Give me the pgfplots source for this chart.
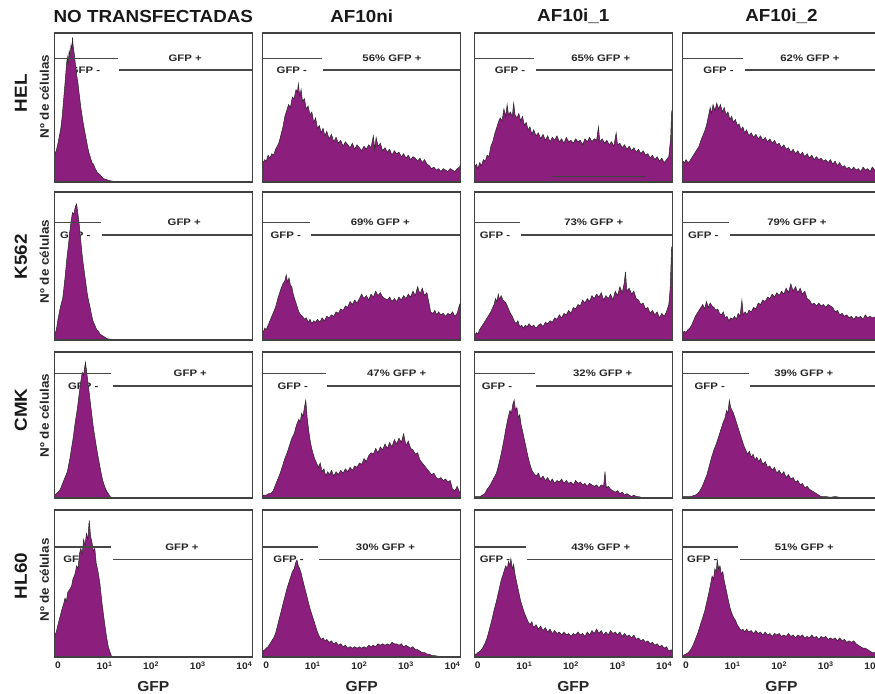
\documentclass[border=0pt]{standalone}
\usepackage{pgfplots}
\pgfplotsset{compat=1.18}
\usepackage{fontspec}
\setmainfont{Liberation Sans}[FakeStretch=1.08]
\newfontfamily\gatefont{Liberation Sans}[FakeStretch=1.2]
\definecolor{histc}{RGB}{140,30,125}
\definecolor{boxc}{RGB}{65,65,65}
\tikzset{
  hfill/.style={fill=histc, draw=black!85, line width=0.5pt},
  gline/.style={draw=black!72, line width=1.5pt},
  gatelbl/.style={font=\gatefont\bfseries\fontsize{9.5}{9.5}\selectfont, text=black!85, inner sep=0pt},
  ttl/.style={font=\bfseries\fontsize{17.5}{17.5}\selectfont, text=black!90, inner sep=0pt},
  ylab/.style={font=\bfseries\fontsize{12.5}{12.5}\selectfont, text=black!85, inner sep=0pt, rotate=90},
  xlab/.style={font=\bfseries\fontsize{14.5}{14.5}\selectfont, text=black!85, inner sep=0pt}
}
\pgfplotsset{
  hist/.style={scale only axis, width=198bp, xmin=-0.075, xmax=4.175, ymin=0, ymax=100,
    xtick=\empty, ytick=\empty, axis on top, anchor=north west,
    axis line style={draw=boxc, line width=1.4pt}},
  bottomrow/.style={xtick={0,1,2,3,4},
    xticklabels={0,10\textsuperscript{1},10\textsuperscript{2},10\textsuperscript{3},10\textsuperscript{4}},
    major tick length=0pt,
    xticklabel style={font=\bfseries\fontsize{9.5}{9.5}\selectfont, text=black!85, yshift=-1bp}}
}
\newcommand{\gtext}[5]{\node[gatelbl] at (axis cs:#4,#1) {#3}; \node[gatelbl] at (axis cs:#5,#2) {GFP -};}
\newcommand{\glines}[4]{\draw[gline] (axis cs:-0.075,#1) -- (axis cs:#3,#1); \draw[gline] (axis cs:#4,#2) -- (axis cs:4.175,#2);}
\begin{document}
\begin{tikzpicture}
\useasboundingbox (0,0) rectangle (875bp,-694bp);
% ---------- titles ----------
\node[ttl] at (153.3bp,-16bp) {NO TRANSFECTADAS};
\node[ttl] at (361.7bp,-16bp) {AF10ni};
\node[ttl] at (573.3bp,-16bp) {AF10i\_1};
\node[ttl] at (781.5bp,-16bp) {AF10i\_2};
\node[ttl, rotate=90] at (20.8bp,-93.3bp) {HEL};
\node[ttl, rotate=90] at (20.8bp,-256.7bp) {K562};
\node[ttl, rotate=90] at (20.8bp,-410bp) {CMK};
\node[ttl, rotate=90] at (20.8bp,-576bp) {HL60};
\node[ylab] at (44.3bp,-96.7bp) {Nº de células};
\node[ylab] at (44.3bp,-261.7bp) {Nº de células};
\node[ylab] at (44.3bp,-415.7bp) {Nº de células};
\node[ylab] at (44.3bp,-580bp) {Nº de células};
\node[xlab] at (153.3bp,-687bp) {GFP};
\node[xlab] at (361.7bp,-687bp) {GFP};
\node[xlab] at (573.3bp,-687bp) {GFP};
\node[xlab] at (781.5bp,-687bp) {GFP};

% ================= ROW 1 : HEL =================
\begin{axis}[hist, at={(54.5bp,-33bp)}, height=149bp]
\gtext{83.0}{75.2}{GFP +}{2.73}{0.58}
\addplot[hfill] coordinates {(-0.075,0)(-0.07,18)(-0.03,22)(0,26)(0.03,31)(0.06,36)(0.09,44)(0.12,55)(0.15,66)(0.18,78)(0.2,84)(0.22,80)(0.24,88)(0.26,85)(0.28,92)(0.3,89)(0.31,97)(0.33,90)(0.35,86)(0.37,80)(0.4,72)(0.43,66)(0.46,58)(0.49,50)(0.52,44)(0.55,38)(0.58,33)(0.61,28)(0.64,23)(0.67,19)(0.7,16)(0.73,13)(0.76,12)(0.8,9)(0.85,6)(0.9,5)(0.95,3)(1.0,2)(1.05,1.5)(1.1,1)(1.18,0.5)(1.2,0)} \closedcycle;
\glines{83.0}{75.2}{1.29}{1.31}
\end{axis}

\begin{axis}[hist, at={(262.7bp,-33bp)}, height=149bp]
\gtext{83.0}{75.2}{56\% GFP +}{2.70}{0.55}
\addplot[hfill] coordinates {(-0.075,0)(-0.07,13)(-0.03,15)(0,14)(0.04,18)(0.08,16)(0.12,19)(0.16,18)(0.2,22)(0.24,24)(0.28,27)(0.32,32)(0.36,37)(0.4,44)(0.44,48)(0.48,52)(0.52,50)(0.56,57)(0.6,56)(0.64,62)(0.67,60)(0.69,66)(0.72,58)(0.75,62)(0.78,54)(0.82,56)(0.86,49)(0.9,51)(0.94,45)(0.98,47)(1.02,40)(1.06,43)(1.1,36)(1.14,38)(1.18,33)(1.22,36)(1.26,31)(1.3,34)(1.35,29)(1.4,32)(1.45,27)(1.5,30)(1.55,26)(1.6,28)(1.65,24)(1.7,27)(1.75,25)(1.8,23)(1.85,26)(1.9,22)(1.95,25)(2.0,23)(2.05,21)(2.1,24)(2.15,22)(2.2,25)(2.25,23)(2.3,31)(2.33,22)(2.36,30)(2.4,24)(2.45,26)(2.5,21)(2.55,23)(2.6,20)(2.65,22)(2.7,18)(2.75,21)(2.8,19)(2.85,20)(2.9,17)(2.95,19)(3.0,16)(3.05,18)(3.1,15)(3.15,17)(3.2,16)(3.25,14)(3.3,16)(3.35,13)(3.4,15)(3.45,12)(3.5,11)(3.55,9)(3.6,10)(3.65,8)(3.7,9)(3.75,7)(3.8,9)(3.85,8)(3.9,7)(3.95,9)(4.0,8)(4.05,7)(4.1,9)(4.15,10)(4.175,12)} \closedcycle;
\glines{83.0}{75.2}{1.20}{1.22}
\end{axis}

\begin{axis}[hist, at={(474.3bp,-33bp)}, height=149bp]
\gtext{83.0}{75.2}{65\% GFP +}{2.64}{0.69}
\addplot[hfill] coordinates {(-0.075,0)(-0.07,10)(-0.03,12)(0,9)(0.04,13)(0.08,11)(0.12,15)(0.16,14)(0.2,18)(0.24,17)(0.28,24)(0.32,27)(0.36,32)(0.4,36)(0.44,40)(0.48,43)(0.52,41)(0.56,49)(0.6,44)(0.63,52)(0.66,45)(0.7,47)(0.74,44)(0.77,53)(0.8,45)(0.84,43)(0.88,46)(0.92,41)(0.96,44)(1.0,38)(1.04,40)(1.08,35)(1.12,37)(1.16,32)(1.2,35)(1.25,31)(1.3,33)(1.35,29)(1.4,32)(1.45,28)(1.5,31)(1.55,27)(1.6,30)(1.65,28)(1.7,31)(1.75,27)(1.8,29)(1.85,26)(1.9,30)(1.95,27)(2.0,28)(2.05,26)(2.1,29)(2.15,27)(2.2,28)(2.25,25)(2.3,29)(2.35,27)(2.4,30)(2.45,27)(2.5,29)(2.55,28)(2.59,37)(2.62,27)(2.67,29)(2.72,26)(2.77,28)(2.82,25)(2.87,27)(2.92,24)(2.97,33)(3.0,25)(3.05,26)(3.1,23)(3.15,25)(3.2,22)(3.25,24)(3.3,21)(3.35,23)(3.4,20)(3.45,22)(3.5,19)(3.55,21)(3.6,18)(3.65,19)(3.7,16)(3.75,18)(3.8,15)(3.85,17)(3.9,14)(3.95,16)(4.0,13)(4.05,15)(4.1,17)(4.14,30)(4.16,47)(4.175,45)} \closedcycle;
\addplot[draw=black!75, line width=1.2pt] coordinates {(1.6,3.6)(3.62,3.6)};
\glines{83.0}{75.2}{1.21}{1.25}
\end{axis}

\begin{axis}[hist, at={(682.5bp,-33bp)}, height=149bp]
\gtext{83.0}{75.2}{62\% GFP +}{2.66}{0.70}
\addplot[hfill] coordinates {(-0.075,0)(-0.07,14)(-0.03,13)(0,15)(0.04,13)(0.08,14)(0.12,16)(0.16,18)(0.2,20)(0.24,22)(0.28,24)(0.32,28)(0.36,31)(0.4,34)(0.44,38)(0.48,44)(0.52,50)(0.55,46)(0.58,52)(0.62,48)(0.66,53)(0.7,49)(0.74,52)(0.78,47)(0.82,50)(0.86,45)(0.9,47)(0.94,42)(0.98,44)(1.02,40)(1.06,42)(1.1,38)(1.14,39)(1.18,35)(1.22,37)(1.26,33)(1.3,35)(1.35,31)(1.4,33)(1.45,30)(1.5,32)(1.55,29)(1.6,31)(1.65,28)(1.7,30)(1.75,27)(1.8,29)(1.85,26)(1.9,28)(1.95,25)(2.0,26)(2.05,23)(2.1,25)(2.15,22)(2.2,23)(2.25,20)(2.3,22)(2.35,19)(2.4,21)(2.45,18)(2.5,20)(2.55,17)(2.6,19)(2.65,16)(2.7,18)(2.75,15)(2.8,17)(2.85,15)(2.9,16)(2.95,14)(3.0,15)(3.05,13)(3.1,15)(3.15,12)(3.2,14)(3.25,11)(3.3,13)(3.35,10)(3.4,11)(3.45,9)(3.5,10)(3.55,8)(3.6,10)(3.65,8)(3.7,9)(3.75,7)(3.8,10)(3.85,8)(3.9,9)(3.95,7)(4.0,10)(4.05,8)(4.1,9)(4.175,8)} \closedcycle;
\glines{83.0}{75.2}{1.23}{1.27}
\end{axis}

% ================= ROW 2 : K562 =================
\begin{axis}[hist, at={(54.5bp,-192bp)}, height=148bp]
\gtext{79.4}{70.9}{GFP +}{2.71}{0.37}
\addplot[hfill] coordinates {(-0.075,0)(-0.07,3)(-0.03,8)(0,14)(0.05,22)(0.1,28)(0.13,36)(0.16,45)(0.19,55)(0.22,63)(0.25,72)(0.28,80)(0.31,86)(0.34,85)(0.37,90)(0.4,92)(0.42,87)(0.45,80)(0.48,70)(0.51,60)(0.54,52)(0.57,45)(0.6,38)(0.63,31)(0.66,26)(0.69,22)(0.72,17)(0.75,13)(0.79,10)(0.83,7)(0.87,6)(0.9,4)(0.95,3)(1.0,2)(1.05,1)(1.12,0.5)(1.18,0)} \closedcycle;
\glines{79.4}{70.9}{0.92}{0.94}
\end{axis}

\begin{axis}[hist, at={(262.7bp,-192bp)}, height=148bp]
\gtext{79.4}{70.9}{69\% GFP +}{2.45}{0.42}
\addplot[hfill] coordinates {(-0.075,0)(-0.07,5)(-0.03,8)(0,7)(0.04,10)(0.08,13)(0.12,16)(0.16,19)(0.2,22)(0.24,27)(0.28,31)(0.32,35)(0.36,38)(0.4,40)(0.43,44)(0.46,39)(0.49,42)(0.52,37)(0.55,36)(0.58,31)(0.62,27)(0.66,23)(0.7,19)(0.74,17)(0.78,16)(0.82,14)(0.86,15)(0.9,12)(0.94,14)(0.98,11)(1.02,13)(1.06,12)(1.1,14)(1.15,12)(1.2,15)(1.25,13)(1.3,16)(1.35,15)(1.4,17)(1.45,16)(1.5,19)(1.55,18)(1.6,21)(1.65,20)(1.7,23)(1.75,22)(1.8,26)(1.85,24)(1.9,27)(1.95,25)(2.0,28)(2.05,31)(2.1,28)(2.15,30)(2.2,27)(2.25,31)(2.3,29)(2.35,33)(2.4,30)(2.45,32)(2.5,29)(2.55,28)(2.6,27)(2.65,29)(2.7,26)(2.75,28)(2.8,26)(2.85,29)(2.9,27)(2.95,30)(3.0,28)(3.05,31)(3.1,29)(3.15,33)(3.2,30)(3.25,36)(3.3,31)(3.35,35)(3.4,30)(3.45,32)(3.5,24)(3.53,19)(3.58,18)(3.62,20)(3.66,17)(3.7,19)(3.75,17)(3.8,18)(3.85,16)(3.9,18)(3.95,17)(4.0,19)(4.05,16)(4.1,18)(4.15,24)(4.175,20)} \closedcycle;
\glines{79.4}{70.9}{0.94}{0.96}
\end{axis}

\begin{axis}[hist, at={(474.3bp,-192bp)}, height=148bp]
\gtext{79.4}{70.9}{73\% GFP +}{2.49}{0.37}
\addplot[hfill] coordinates {(-0.075,0)(-0.07,3)(-0.03,5)(0,4)(0.04,7)(0.08,9)(0.12,11)(0.16,13)(0.2,15)(0.24,17)(0.28,19)(0.32,22)(0.35,24)(0.38,28)(0.41,26)(0.44,31)(0.47,27)(0.5,30)(0.54,27)(0.58,26)(0.62,24)(0.66,21)(0.7,18)(0.74,16)(0.78,13)(0.82,11)(0.86,13)(0.9,9)(0.94,10)(0.98,8)(1.02,10)(1.06,9)(1.1,11)(1.15,9)(1.2,10)(1.25,8)(1.3,10)(1.35,11)(1.4,9)(1.45,12)(1.5,11)(1.55,13)(1.6,12)(1.65,15)(1.7,14)(1.75,17)(1.8,15)(1.85,18)(1.9,17)(1.95,20)(2.0,18)(2.05,22)(2.1,21)(2.15,24)(2.2,23)(2.25,27)(2.3,25)(2.35,28)(2.4,26)(2.45,30)(2.5,28)(2.55,31)(2.6,29)(2.65,32)(2.7,27)(2.75,30)(2.8,28)(2.85,31)(2.9,27)(2.95,33)(3.0,30)(3.05,36)(3.1,32)(3.14,38)(3.17,46)(3.2,33)(3.25,35)(3.3,31)(3.35,33)(3.4,28)(3.45,27)(3.5,24)(3.55,25)(3.6,21)(3.65,22)(3.7,18)(3.75,20)(3.8,17)(3.85,19)(3.9,15)(3.95,18)(4.0,16)(4.05,19)(4.1,24)(4.13,35)(4.16,63)(4.175,60)} \closedcycle;
\glines{79.4}{70.9}{0.91}{0.93}
\end{axis}

\begin{axis}[hist, at={(682.5bp,-192bp)}, height=148bp]
\gtext{79.4}{70.9}{79\% GFP +}{2.38}{0.37}
\addplot[hfill] coordinates {(-0.075,0)(-0.07,5)(-0.03,6)(0,5)(0.04,7)(0.08,8)(0.12,10)(0.16,13)(0.2,16)(0.24,18)(0.28,20)(0.32,22)(0.36,24)(0.4,21)(0.44,26)(0.48,22)(0.52,25)(0.56,23)(0.6,22)(0.64,20)(0.68,21)(0.72,18)(0.76,17)(0.8,19)(0.84,15)(0.88,16)(0.92,13)(0.96,15)(1.0,14)(1.04,16)(1.08,14)(1.12,18)(1.16,16)(1.2,27)(1.23,17)(1.27,19)(1.31,17)(1.35,20)(1.4,19)(1.45,22)(1.5,21)(1.55,25)(1.6,24)(1.65,27)(1.7,26)(1.75,29)(1.8,28)(1.85,31)(1.9,29)(1.95,32)(2.0,30)(2.05,33)(2.1,31)(2.15,35)(2.2,32)(2.25,38)(2.3,33)(2.35,36)(2.4,32)(2.45,35)(2.5,31)(2.55,33)(2.6,28)(2.65,27)(2.7,24)(2.75,25)(2.8,23)(2.85,25)(2.9,23)(2.95,24)(3.0,22)(3.05,24)(3.1,23)(3.15,22)(3.2,19)(3.25,20)(3.3,17)(3.35,18)(3.4,16)(3.45,17)(3.5,15)(3.55,16)(3.6,14)(3.65,16)(3.7,15)(3.75,16)(3.8,14)(3.85,17)(3.9,15)(3.95,16)(4.0,15)(4.1,16)(4.175,15)} \closedcycle;
\glines{79.4}{70.9}{0.93}{0.94}
\end{axis}

% ================= ROW 3 : CMK =================
\begin{axis}[hist, at={(54.5bp,-352bp)}, height=146bp]
\gtext{85.4}{76.7}{GFP +}{2.84}{0.54}
\addplot[hfill] coordinates {(-0.075,0)(-0.07,2)(0,4)(0.05,6)(0.1,10)(0.15,14)(0.2,18)(0.25,26)(0.29,34)(0.33,42)(0.37,52)(0.41,60)(0.45,70)(0.49,80)(0.52,86)(0.55,84)(0.57,89)(0.59,93)(0.61,88)(0.64,80)(0.67,72)(0.7,64)(0.73,56)(0.76,48)(0.8,40)(0.84,32)(0.88,25)(0.92,18)(0.96,12)(1.0,8)(1.04,5)(1.08,3)(1.12,1)(1.15,0)} \closedcycle;
\glines{85.4}{76.7}{1.14}{1.19}
\end{axis}

\begin{axis}[hist, at={(262.7bp,-352bp)}, height=146bp]
\gtext{85.4}{76.7}{47\% GFP +}{2.80}{0.57}
\addplot[hfill] coordinates {(-0.075,0)(-0.07,2)(0,2)(0.05,3)(0.1,3)(0.15,5)(0.2,9)(0.25,13)(0.3,17)(0.35,22)(0.4,27)(0.45,31)(0.5,36)(0.55,41)(0.6,44)(0.65,50)(0.7,54)(0.73,52)(0.76,58)(0.79,56)(0.82,62)(0.85,67)(0.88,55)(0.91,47)(0.94,40)(0.97,35)(1.0,31)(1.04,27)(1.08,24)(1.12,21)(1.16,24)(1.2,18)(1.24,20)(1.28,15)(1.32,18)(1.36,16)(1.4,19)(1.45,15)(1.5,18)(1.55,16)(1.6,19)(1.65,17)(1.7,20)(1.75,18)(1.8,21)(1.85,19)(1.9,22)(1.95,21)(2.0,24)(2.05,23)(2.1,27)(2.15,25)(2.2,29)(2.25,31)(2.3,30)(2.35,34)(2.4,31)(2.45,35)(2.5,33)(2.55,37)(2.6,34)(2.65,38)(2.7,35)(2.75,40)(2.8,37)(2.85,41)(2.9,38)(2.95,44)(3.0,36)(3.05,39)(3.1,34)(3.15,33)(3.2,30)(3.25,31)(3.3,26)(3.35,24)(3.4,22)(3.45,20)(3.5,18)(3.55,16)(3.6,17)(3.65,14)(3.7,13)(3.75,14)(3.8,12)(3.85,13)(3.9,11)(3.95,12)(4.0,6)(4.05,5)(4.1,8)(4.15,4)(4.175,3)} \closedcycle;
\glines{85.4}{76.7}{1.29}{1.31}
\end{axis}

\begin{axis}[hist, at={(474.3bp,-352bp)}, height=146bp]
\gtext{85.4}{76.7}{32\% GFP +}{2.68}{0.41}
\addplot[hfill] coordinates {(-0.075,0)(-0.07,1)(0,1)(0.05,1)(0.1,2)(0.15,3)(0.2,6)(0.25,8)(0.3,11)(0.35,14)(0.4,17)(0.45,23)(0.5,30)(0.55,38)(0.6,47)(0.65,55)(0.69,60)(0.72,58)(0.75,64)(0.78,67)(0.81,60)(0.84,62)(0.87,55)(0.9,57)(0.93,50)(0.96,46)(1.0,40)(1.04,34)(1.08,28)(1.12,23)(1.16,19)(1.2,17)(1.25,15)(1.3,17)(1.35,13)(1.4,15)(1.45,12)(1.5,14)(1.55,11)(1.6,13)(1.65,10)(1.7,12)(1.75,11)(1.8,13)(1.85,10)(1.9,12)(1.95,10)(2.0,11)(2.05,9)(2.1,12)(2.15,10)(2.2,11)(2.25,9)(2.3,10)(2.35,8)(2.4,10)(2.45,9)(2.5,8)(2.55,9)(2.6,7)(2.65,9)(2.7,8)(2.73,18)(2.76,7)(2.8,8)(2.85,6)(2.9,5)(2.95,4)(3.0,5)(3.05,3)(3.1,4)(3.15,2)(3.2,3)(3.25,2)(3.3,1)(3.35,2)(3.4,1)(3.45,1)(3.5,0.5)(3.55,0)} \closedcycle;
\glines{85.4}{76.7}{1.22}{1.24}
\end{axis}

\begin{axis}[hist, at={(682.5bp,-352bp)}, height=146bp]
\gtext{85.4}{76.7}{39\% GFP +}{2.53}{0.51}
\addplot[hfill] coordinates {(-0.075,0)(-0.07,1)(0,1)(0.1,1)(0.2,2)(0.25,3)(0.3,5)(0.35,8)(0.4,12)(0.45,16)(0.5,22)(0.55,28)(0.6,33)(0.65,37)(0.7,42)(0.75,47)(0.8,52)(0.84,55)(0.87,60)(0.9,58)(0.93,67)(0.96,62)(0.99,60)(1.02,58)(1.05,55)(1.08,52)(1.12,48)(1.16,44)(1.2,40)(1.24,36)(1.28,33)(1.32,30)(1.36,32)(1.4,28)(1.44,30)(1.48,26)(1.52,28)(1.56,25)(1.6,27)(1.65,23)(1.7,25)(1.75,21)(1.8,22)(1.85,19)(1.9,21)(1.95,17)(2.0,19)(2.05,16)(2.1,18)(2.15,14)(2.2,16)(2.25,13)(2.3,14)(2.35,11)(2.4,12)(2.45,9)(2.5,10)(2.55,7)(2.6,8)(2.65,6)(2.7,5)(2.75,4)(2.8,3)(2.85,2)(2.9,1)(3.0,1)(3.1,0.5)(3.2,1)(3.3,0.5)(3.4,0)} \closedcycle;
\glines{85.4}{76.7}{1.35}{1.38}
\end{axis}

% ================= ROW 4 : HL60 =================
\begin{axis}[hist, bottomrow, at={(54.5bp,-510bp)}, height=147bp]
\gtext{75.0}{66.5}{GFP +}{2.66}{0.44}
\addplot[hfill] coordinates {(-0.075,0)(-0.07,14)(-0.03,18)(0,22)(0.04,27)(0.08,32)(0.12,36)(0.15,40)(0.18,38)(0.21,44)(0.25,46)(0.29,48)(0.32,53)(0.36,56)(0.4,62)(0.43,60)(0.46,70)(0.49,74)(0.52,70)(0.55,80)(0.58,76)(0.61,84)(0.64,80)(0.67,93)(0.7,82)(0.73,78)(0.76,72)(0.79,74)(0.82,64)(0.86,58)(0.9,50)(0.94,38)(0.98,28)(1.01,21)(1.04,14)(1.08,7)(1.12,3)(1.155,0)} \closedcycle;
\glines{75.0}{66.5}{1.14}{1.18}
\end{axis}

\begin{axis}[hist, bottomrow, at={(262.7bp,-510bp)}, height=147bp]
\gtext{75.0}{66.5}{30\% GFP +}{2.56}{0.48}
\addplot[hfill] coordinates {(-0.075,0)(-0.07,4)(-0.03,5)(0,6)(0.04,7)(0.08,9)(0.12,11)(0.16,13)(0.2,16)(0.24,21)(0.28,26)(0.32,31)(0.36,36)(0.4,41)(0.44,46)(0.48,50)(0.52,54)(0.56,58)(0.6,60)(0.63,64)(0.66,66)(0.69,62)(0.72,60)(0.75,57)(0.78,53)(0.82,48)(0.86,43)(0.9,38)(0.94,33)(0.98,29)(1.02,25)(1.06,21)(1.1,17)(1.14,14)(1.18,12)(1.22,13)(1.26,11)(1.3,12)(1.35,10)(1.4,11)(1.45,9)(1.5,10)(1.55,8)(1.6,9)(1.65,7)(1.7,8)(1.75,6)(1.8,7)(1.85,6)(1.9,7)(1.95,6)(2.0,7)(2.05,6)(2.1,7)(2.15,6)(2.2,8)(2.25,7)(2.3,8)(2.35,7)(2.4,9)(2.45,8)(2.5,9)(2.55,8)(2.6,9)(2.65,8)(2.7,10)(2.75,9)(2.8,9)(2.85,8)(2.9,9)(2.95,7)(3.0,8)(3.05,7)(3.1,6)(3.15,7)(3.2,5)(3.25,5)(3.3,4)(3.35,3)(3.4,3)(3.45,2)(3.5,2)(3.55,1)(3.6,1)(3.7,0.5)(3.8,0)} \closedcycle;
\glines{75.0}{66.5}{1.12}{1.14}
\end{axis}

\begin{axis}[hist, bottomrow, at={(474.3bp,-510bp)}, height=147bp]
\gtext{75.0}{66.5}{43\% GFP +}{2.64}{0.37}
\addplot[hfill] coordinates {(-0.075,0)(-0.07,2)(-0.03,2)(0,3)(0.05,4)(0.1,6)(0.15,9)(0.2,13)(0.25,19)(0.3,25)(0.35,32)(0.4,38)(0.45,45)(0.5,52)(0.55,57)(0.6,62)(0.63,60)(0.66,65)(0.69,62)(0.71,67)(0.74,60)(0.77,63)(0.8,56)(0.84,50)(0.88,44)(0.92,38)(0.96,34)(1.0,30)(1.04,27)(1.08,24)(1.12,22)(1.16,24)(1.2,20)(1.25,22)(1.3,19)(1.35,21)(1.4,18)(1.45,20)(1.5,17)(1.55,19)(1.6,16)(1.65,18)(1.7,16)(1.75,17)(1.8,15)(1.85,17)(1.9,15)(1.95,16)(2.0,14)(2.05,16)(2.1,15)(2.15,17)(2.2,15)(2.25,16)(2.3,14)(2.35,17)(2.4,15)(2.45,18)(2.5,16)(2.55,19)(2.6,16)(2.65,18)(2.7,15)(2.75,17)(2.8,15)(2.85,18)(2.9,16)(2.95,17)(3.0,15)(3.05,17)(3.1,14)(3.15,16)(3.2,14)(3.25,15)(3.3,13)(3.35,15)(3.4,12)(3.45,13)(3.5,11)(3.55,12)(3.6,10)(3.65,11)(3.7,9)(3.75,10)(3.8,8)(3.85,9)(3.9,7)(3.95,8)(4.0,6)(4.05,7)(4.1,4)(4.15,5)(4.175,3)} \closedcycle;
\glines{75.0}{66.5}{1.03}{1.05}
\end{axis}

\begin{axis}[hist, bottomrow, at={(682.5bp,-510bp)}, height=147bp]
\gtext{75.0}{66.5}{51\% GFP +}{2.54}{0.35}
\addplot[hfill] coordinates {(-0.075,0)(-0.07,1)(0,2)(0.05,3)(0.1,5)(0.15,8)(0.2,12)(0.25,16)(0.3,21)(0.35,26)(0.4,31)(0.45,38)(0.5,45)(0.53,50)(0.56,55)(0.59,53)(0.62,60)(0.65,58)(0.67,66)(0.7,60)(0.73,62)(0.76,56)(0.79,58)(0.82,52)(0.86,46)(0.9,40)(0.94,34)(0.98,30)(1.02,27)(1.06,25)(1.1,22)(1.14,20)(1.18,18)(1.22,19)(1.26,17)(1.3,19)(1.35,17)(1.4,18)(1.45,16)(1.5,18)(1.55,16)(1.6,17)(1.65,15)(1.7,17)(1.75,15)(1.8,16)(1.85,14)(1.9,16)(1.95,15)(2.0,16)(2.05,14)(2.1,15)(2.15,14)(2.2,16)(2.25,14)(2.3,15)(2.35,13)(2.4,15)(2.45,14)(2.5,15)(2.55,13)(2.6,14)(2.65,13)(2.7,15)(2.75,13)(2.8,14)(2.85,12)(2.9,14)(2.95,13)(3.0,14)(3.05,12)(3.1,13)(3.15,12)(3.2,13)(3.25,11)(3.3,13)(3.35,11)(3.4,12)(3.45,10)(3.5,11)(3.55,10)(3.6,11)(3.65,9)(3.7,8)(3.75,7)(3.8,6)(3.85,6)(3.9,5)(3.95,4)(4.0,3)(4.05,3)(4.1,2)(4.175,2)} \closedcycle;
\glines{75.0}{66.5}{1.12}{1.16}
\end{axis}
\end{tikzpicture}
\end{document}
